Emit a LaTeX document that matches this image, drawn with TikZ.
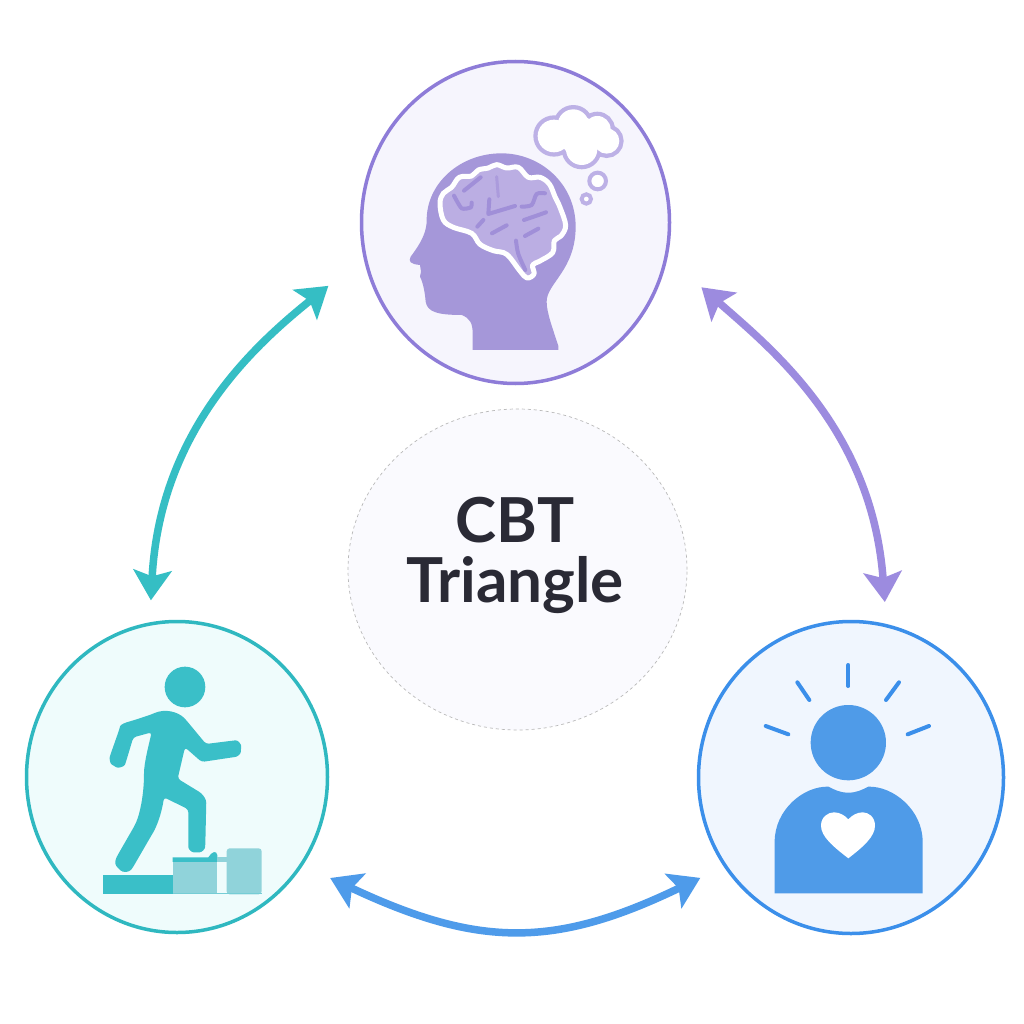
\documentclass[tikz,border=0pt]{standalone}
\usepackage{fontspec}
\setmainfont{Lato}
\usetikzlibrary{arrows.meta,shapes.geometric}
\definecolor{ringP}{HTML}{8E7CD8}\definecolor{ringT}{HTML}{2FB8C0}\definecolor{ringB}{HTML}{3B8FEA}
\definecolor{fillP}{HTML}{F6F5FD}\definecolor{fillT}{HTML}{EFFCFC}\definecolor{fillB}{HTML}{F0F6FE}
\definecolor{arrP}{HTML}{9C8BDF}\definecolor{arrT}{HTML}{35BEC4}\definecolor{arrB}{HTML}{4E9BEA}
\definecolor{headP}{HTML}{A597D9}\definecolor{brainP}{HTML}{BBAEE3}\definecolor{sulcP}{HTML}{A08FD8}\definecolor{cloudP}{HTML}{BDB1E6}
\definecolor{iconT}{HTML}{3ABFC8}\definecolor{paleT}{HTML}{90D3DA}\definecolor{iconB}{HTML}{4F9BE8}
\definecolor{hubink}{HTML}{2A2A35}
\tikzset{
 bigring/.style={ellipse,draw=#1,line width=3.5pt,inner sep=0pt},
 link/.style={line width=7.5pt,draw=#1,{Stealth[length=30pt,width=38pt,inset=6pt,fill=#1]}-{Stealth[length=30pt,width=38pt,inset=6pt,fill=#1]}},
 sulcus/.style={draw=sulcP,line width=4pt,line cap=round,line join=round},
 ray/.style={draw=ringB,line width=4pt,line cap=round},
 cloudline/.style={draw=cloudP,line width=4pt}
}
\begin{document}
\begin{tikzpicture}[x=1pt,y=-1pt]
\useasboundingbox (0,0) rectangle (1024,1024);
\fill[white] (0,0) rectangle (1024,1024);
\node[ellipse,draw=gray!55,dashed,line width=.7pt,fill=fillP!55,inner sep=0pt,minimum width=339pt,minimum height=321pt] (hub) at (517.5,569.5) {};
\node[font=\bfseries\fontsize{62}{60}\selectfont,text=hubink,align=center,inner sep=0pt] (hubtext) at (515,555) {CBT\\Triangle};
\node[bigring=ringP,fill=fillP,minimum width=308pt,minimum height=322pt] (top) at (515.5,222.5) {};
\node[bigring=ringT,fill=fillT,minimum width=301pt,minimum height=311pt] (left) at (177,777) {};
\node[bigring=ringB,fill=fillB,minimum width=305pt,minimum height=312pt] (right) at (851,777.5) {};

\draw[link=arrT,shorten <=22pt,shorten >=45pt] (left.100) .. controls (160,430) and (255,345) .. (top.193);
\draw[link=arrP,shorten <=45pt,shorten >=22pt] (top.347) .. controls (773,350) and (872,430) .. (right.77);
\draw[link=arrB,shorten <=30pt,shorten >=26pt] (left.-35) .. controls (479,948) and (555,948) .. (right.215);

% head and brain
\begin{scope}[shift={(390,80)},x=.3333pt,y=-.3333pt]
\fill[headP] (248,810) -- (505,810) -- (505,798) .. controls (490,750) and (470,700) .. (470,665) .. controls (470,610) and (557,570) .. (557,440) .. controls (557,310) and (450,220) .. (335,220) .. controls (210,220) and (110,310) .. (110,420) .. controls (110,450) and (100,480) .. (62,530) .. controls (55,545) and (60,552) .. (90,555) -- (93,575) -- (90,590) .. controls (100,610) and (105,640) .. (107,665) .. controls (112,695) and (140,705) .. (215,705) .. controls (240,715) and (248,730) .. (248,760) -- cycle;
\draw[white,line width=5pt,fill=brainP,line join=round] plot[smooth cycle,tension=.6] coordinates {(150,370) (160,340) (185,322) (208,292) (245,288) (265,270) (295,264) (320,254) (350,264) (385,262) (415,292) (450,292) (478,312) (495,350) (510,382) (527,436) (513,468) (493,482) (488,518) (450,543) (428,555) (432,582) (411,594) (390,573) (350,523) (310,512) (270,493) (245,460) (190,442) (160,420)};
\draw[sulcus] plot[smooth,tension=.4] coordinates {(192,347) (215,385) (243,382) (245,368)};
\draw[sulcus] (222,332) -- (272,292);
\draw[sulcus] (298,358) -- (295,402) -- (375,378);
\draw[sulcus] plot[smooth,tension=.5] coordinates {(395,380) (425,375) (440,342) (465,340)};
\draw[sulcus] (402,420) -- (440,407) -- (468,397);
\draw[sulcus] (262,440) -- (280,420);
\draw[sulcus] (306,460) -- (350,436);
\draw[sulcus] (405,468) -- (445,446);
\draw[sulcus] plot[smooth,tension=.5] coordinates {(378,482) (385,522) (406,570)};
\draw[draw=sulcP!60!brainP,line width=3pt,line cap=round] (320,290) -- (325,350);
% cloud: outlines first, then white inside
\foreach \cx/\cy/\cr in {492/168/49,550/135/47,622/148/40,650/183/38,575/208/47}{\draw[draw=cloudP,line width=8.6pt] (\cx,\cy) circle[radius=\cr];}
\foreach \cx/\cy/\cr in {492/168/49,550/135/47,622/148/40,650/183/38,575/208/47,570/170/60}{\fill[white] (\cx,\cy) circle[radius=\cr];}
\draw[cloudline,fill=white] (623,303) circle[radius=25];
\draw[cloudline,fill=white] (589,357) circle[radius=14];
\end{scope}

% walker
\begin{scope}[shift={(90,650)},x=.3333pt,y=-.3333pt]
\fill[iconT] (285,111) circle[radius=61];
\fill[iconT,rounded corners=3pt] (140,208) -- (185,193) .. controls (225,175) and (265,185) .. (290,212) -- (348,282) -- (428,272)
  .. controls (445,270) and (454,285) .. (453,297) .. controls (452,312) and (442,320) .. (428,322) -- (335,336) -- (285,292) -- (263,386) -- (335,430) -- (349,450) -- (346,582)
  .. controls (345,598) and (335,607) .. (320,607) .. controls (305,607) and (295,598) .. (295,582) -- (295,478) -- (222,442) .. controls (215,490) and (200,530) .. (185,555) -- (130,650)
  .. controls (118,668) and (98,668) .. (85,655) .. controls (72,640) and (78,625) .. (85,612) -- (135,525) .. controls (150,490) and (160,440) .. (162,380) .. controls (162,340) and (175,290) .. (185,247) -- (130,262) -- (108,335)
  .. controls (103,350) and (85,355) .. (72,348) .. controls (60,340) and (58,325) .. (62,312) -- (88,238) .. controls (90,230) and (92,226) .. (100,220) -- cycle;
\fill[iconT] (40,676) rectangle (248,733);
\fill[paleT] (248,635) rectangle (380,733);
\fill[iconT] (248,622) -- (355,622) .. controls (365,605) and (380,600) .. (382,615) -- (382,636) -- (248,636) -- cycle;
\fill[paleT] (382,620) rectangle (410,635);
\fill[paleT,rounded corners=3pt] (410,595) rectangle (515,733);
\fill[paleT!70!iconT] (248,728) rectangle (515,733);
\end{scope}

% person
\begin{scope}[shift={(750,650)},x=.3333pt,y=-.3333pt]
\foreach \xa/\ya/\xb/\yb in {295/45/295/108,142/97/178/150,447/97/408/150,47/228/115/253,537/228/473/253}{\draw[ray] (\xa,\ya) -- (\xb,\yb);}
\fill[iconB] (295,278) circle[radius=113];
\fill[iconB] (74,730) -- (518,730) -- (518,575) .. controls (518,480) and (430,408) .. (355,410) .. controls (335,420) and (320,428) .. (295,428) .. controls (270,428) and (255,420) .. (235,410) .. controls (160,408) and (74,480) .. (74,575) -- cycle;
\fill[white] (295,625) .. controls (250,590) and (213,560) .. (213,527) .. controls (213,500) and (235,487) .. (252,487) .. controls (270,487) and (285,497) .. (295,508) .. controls (305,497) and (320,487) .. (338,487) .. controls (355,487) and (375,500) .. (375,527) .. controls (375,560) and (340,590) .. (295,625) -- cycle;
\end{scope}
\end{tikzpicture}
\end{document}
